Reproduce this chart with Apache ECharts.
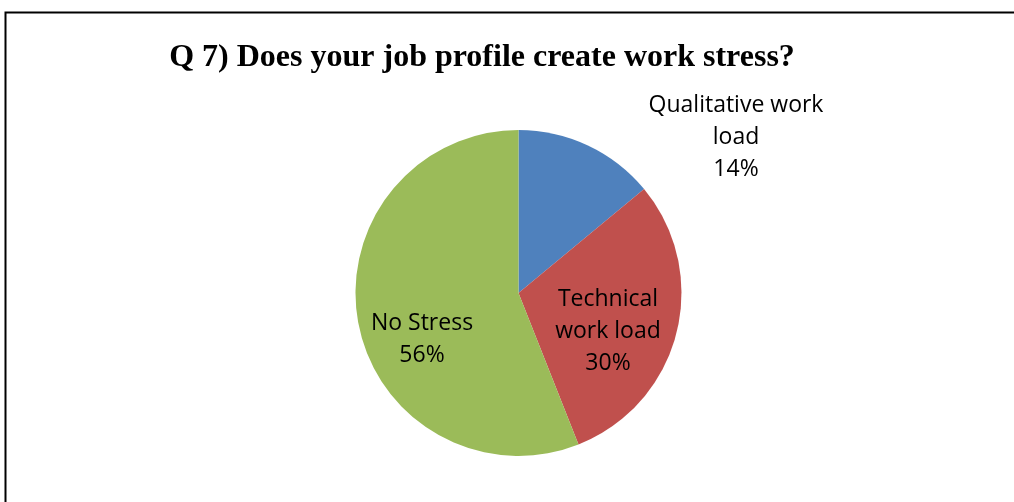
<!DOCTYPE html>
<html>
<head>
<meta charset="utf-8">
<script src="https://cdn.jsdelivr.net/npm/echarts@6/dist/echarts.min.js"></script>
<style>
  html, body { margin: 0; padding: 0; background: #fff; }
  #chart { width: 1014px; height: 502px; }
</style>
</head>
<body>
<div id="chart"></div>
<script>
// Survey answers for question 7
const categories = ['Qualitative work\nload', 'Technical\nwork load', 'No Stress'];
const shares = [14, 30, 56];
const sliceColors = ['#4F81BD', '#C0504D', '#9BBB59'];

// Where each slice's caption sits, in pixels
const labelSpots = [
  { x: 736, y: 137 },
  { x: 608, y: 331 },
  { x: 422, y: 339 }
];

const chart = echarts.init(document.getElementById('chart'));
chart.setOption({
  animation: false,
  backgroundColor: '#fff',
  title: {
    text: 'Q 7) Does your job profile create work stress?',
    left: 477,
    top: 37,
    textAlign: 'center',
    textStyle: {
      fontFamily: 'Liberation Serif',
      fontWeight: 'bold',
      fontSize: 32,
      color: '#000'
    }
  },
  graphic: [{
    type: 'rect',
    shape: { x: 5.5, y: 12.5, width: 1200, height: 600 },
    style: { fill: 'none', stroke: '#000', lineWidth: 2 },
    silent: true
  }],
  series: [{
    type: 'pie',
    center: [518.5, 293],
    radius: [0, 163],
    startAngle: 90,
    clockwise: true,
    data: categories.map((name, i) => ({
      name,
      value: shares[i],
      itemStyle: { color: sliceColors[i] }
    })),
    itemStyle: { borderWidth: 0 },
    label: {
      show: true,
      position: 'inside',
      formatter: '{b}\n{c}%',
      fontFamily: 'Open Sans',
      fontSize: 23,
      lineHeight: 32,
      color: '#000',
      align: 'center'
    },
    labelLine: { show: false },
    labelLayout: (params) => ({
      x: labelSpots[params.dataIndex].x,
      y: labelSpots[params.dataIndex].y,
      align: 'center',
      verticalAlign: 'middle'
    }),
    emphasis: { disabled: true }
  }]
});
</script>
</body>
</html>
